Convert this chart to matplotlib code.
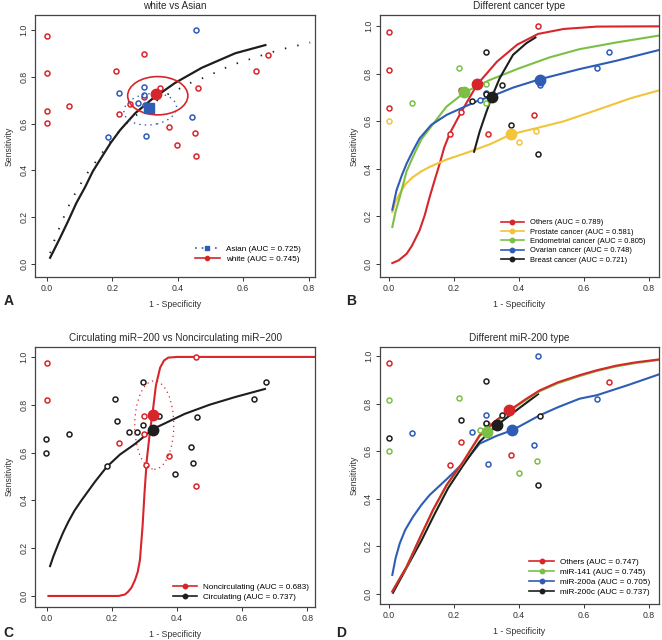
import matplotlib
matplotlib.use('Agg')
import matplotlib.pyplot as plt
from matplotlib.patches import Ellipse
from matplotlib.lines import Line2D

plt.rcParams['font.family'] = ['Liberation Sans', 'DejaVu Sans']

RED = '#d7262b'
YEL = '#f2c43a'
GRN = '#7cbf45'
BLU = '#2f5cb5'
BLK = '#1e1e1e'

# ---- panel A : white vs Asian ----
a_white_x = [0, 0, 0, 0, 0.069, 0.212, 0.298, 0.22, 0.255, 0.298, 0.347, 0.373, 0.398, 0.452, 0.456, 0.461, 0.639, 0.675]
a_white_y = [0.977, 0.819, 0.656, 0.602, 0.678, 0.827, 0.897, 0.640, 0.686, 0.716, 0.755, 0.586, 0.511, 0.562, 0.461, 0.752, 0.824, 0.895]
a_asian_x = [0.456, 0.298, 0.22, 0.278, 0.299, 0.186, 0.304, 0.443, 0.298]
a_asian_y = [1.0, 0.756, 0.732, 0.689, 0.68, 0.544, 0.548, 0.627, 0.722]
a_white_curve_x = [0.010, 0.04, 0.066, 0.09, 0.117, 0.14, 0.168, 0.195, 0.224, 0.27, 0.321, 0.392, 0.474, 0.576, 0.668]
a_white_curve_y = [0.026, 0.11, 0.186, 0.26, 0.329, 0.395, 0.458, 0.518, 0.573, 0.645, 0.705, 0.775, 0.84, 0.902, 0.937]
a_asian_curve_x = [0.01, 0.02, 0.031, 0.044, 0.056, 0.069, 0.083, 0.099, 0.115, 0.133, 0.153, 0.2, 0.25, 0.31, 0.36,
                   0.418, 0.443, 0.474, 0.503, 0.531, 0.561, 0.591, 0.622, 0.652, 0.681, 0.712, 0.742, 0.775, 0.805]
a_asian_curve_y = [0.046, 0.089, 0.131, 0.172, 0.215, 0.255, 0.293, 0.332, 0.37, 0.407, 0.444, 0.535, 0.612, 0.675, 0.72,
                   0.759, 0.778, 0.794, 0.811, 0.831, 0.848, 0.864, 0.877, 0.891, 0.903, 0.917, 0.927, 0.938, 0.948]
a_summary = {'white': (0.333, 0.726), 'Asian': (0.312, 0.666)}
a_white_ell = (0.339, 0.72, 0.092, 0.082)
a_asian_ell = (0.316, 0.662, 0.082, 0.066)
a_labels = ['Asian (AUC = 0.725)', 'white (AUC = 0.745)']

# ---- panel B : cancer type ----
b_names = ['Others', 'Prostate cancer', 'Endometrial cancer', 'Ovarian cancer', 'Breast cancer']
b_auc = [0.789, 0.581, 0.805, 0.748, 0.721]
b_pts_x = [
    [0, 0, 0, 0.221, 0.223, 0.187, 0.306, 0.446, 0.459],
    [0, 0.4, 0.454],
    [0.072, 0.214, 0.299, 0.299],
    [0.3, 0.677, 0.641, 0.465, 0.279],
    [0.3, 0.257, 0.349, 0.375, 0.459, 0.3],
]
b_pts_y = [
    [0.976, 0.818, 0.655, 0.732, 0.641, 0.545, 0.546, 0.627, 1.0],
    [0.601, 0.511, 0.561],
    [0.677, 0.824, 0.756, 0.677],
    [0.72, 0.894, 0.823, 0.751, 0.69],
    [0.894, 0.686, 0.752, 0.583, 0.461, 0.715],
]
b_curve_x = [
    [0.010, 0.03, 0.054, 0.07, 0.094, 0.11, 0.125, 0.14, 0.156, 0.17, 0.187, 0.223, 0.272, 0.333, 0.395, 0.459,
     0.538, 0.641, 0.8, 0.831],
    [0.010, 0.02, 0.033, 0.05, 0.074, 0.1, 0.125, 0.177, 0.238, 0.31, 0.377, 0.456, 0.538, 0.641, 0.744, 0.831],
    [0.010, 0.02, 0.033, 0.054, 0.08, 0.1, 0.125, 0.177, 0.233, 0.31, 0.402, 0.494, 0.587, 0.7, 0.831],
    [0.010, 0.023, 0.04, 0.054, 0.075, 0.094, 0.13, 0.177, 0.279, 0.313, 0.382, 0.464, 0.587, 0.7, 0.831],
    [0.262, 0.279, 0.3, 0.316, 0.341, 0.382, 0.423, 0.451],
]
b_curve_y = [
    [0.003, 0.015, 0.042, 0.075, 0.141, 0.205, 0.281, 0.35, 0.422, 0.49, 0.549, 0.641, 0.756, 0.852, 0.923, 0.968,
     0.989, 0.999, 1.0, 1.0],
    [0.218, 0.262, 0.296, 0.335, 0.366, 0.39, 0.408, 0.439, 0.467, 0.503, 0.546, 0.572, 0.6, 0.648, 0.697, 0.73],
    [0.155, 0.22, 0.281, 0.39, 0.47, 0.525, 0.57, 0.662, 0.722, 0.774, 0.824, 0.869, 0.904, 0.932, 0.961],
    [0.228, 0.31, 0.375, 0.422, 0.48, 0.528, 0.585, 0.627, 0.69, 0.704, 0.742, 0.777, 0.82, 0.855, 0.9],
    [0.472, 0.556, 0.64, 0.70, 0.782, 0.88, 0.929, 0.953],
]
b_summary_x = [0.272, 0.375, 0.231, 0.465, 0.316]
b_summary_y = [0.756, 0.546, 0.724, 0.775, 0.701]

# ---- panel C : circulating vs noncirculating ----
c_non_x = [0, 0, 0.222, 0.299, 0.299, 0.305, 0.374, 0.457, 0.457]
c_non_y = [0.976, 0.818, 0.639, 0.753, 0.677, 0.546, 0.584, 0.458, 1.0]
c_circ_x = [-0.003, -0.003, 0.068, 0.184, 0.21, 0.217, 0.253, 0.276, 0.295, 0.295, 0.344, 0.395, 0.443, 0.45, 0.46, 0.637, 0.672]
c_circ_y = [0.655, 0.6, 0.677, 0.543, 0.824, 0.731, 0.684, 0.688, 0.894, 0.717, 0.752, 0.51, 0.625, 0.558, 0.749, 0.822, 0.893]
c_non_curve_x = [0.005, 0.22, 0.24, 0.25, 0.26, 0.271, 0.279, 0.286, 0.294, 0.3, 0.307, 0.317, 0.327, 0.335, 0.348,
                 0.36, 0.373, 0.4, 0.46, 0.83]
c_non_curve_y = [0.0, 0.0, 0.006, 0.018, 0.035, 0.067, 0.1, 0.15, 0.29, 0.43, 0.568, 0.69, 0.79, 0.88, 0.955,
                 0.985, 0.997, 1.0, 1.0, 1.0]
c_circ_curve_x = [0.01, 0.02, 0.036, 0.05, 0.066, 0.085, 0.107, 0.148, 0.184, 0.225, 0.271, 0.327, 0.424, 0.5, 0.578, 0.67]
c_circ_curve_y = [0.125, 0.165, 0.22, 0.265, 0.31, 0.357, 0.401, 0.478, 0.54, 0.592, 0.636, 0.699, 0.762, 0.8, 0.832, 0.866]
c_summary = {'non': (0.327, 0.759), 'circ': (0.325, 0.696)}
c_non_ell = (0.33, 0.715, 0.06, 0.185)
c_labels = ['Noncirculating (AUC = 0.683)', 'Circulating (AUC = 0.737)']

# ---- panel D : miR-200 type ----
d_names = ['Others', 'miR-141', 'miR-200a', 'miR-200c']
d_auc = [0.747, 0.745, 0.705, 0.737]
d_pts_x = [
    [0, 0.187, 0.223, 0.303, 0.375, 0.679],
    [0, 0, 0.214, 0.28, 0.299, 0.4, 0.456],
    [0.458, 0.299, 0.072, 0.256, 0.306, 0.446, 0.641],
    [0, 0.299, 0.223, 0.299, 0.349, 0.464, 0.459],
]
d_pts_y = [
    [0.973, 0.543, 0.639, 0.713, 0.583, 0.892],
    [0.815, 0.601, 0.824, 0.688, 0.714, 0.51, 0.559],
    [1.0, 0.754, 0.676, 0.683, 0.545, 0.625, 0.821],
    [0.654, 0.895, 0.731, 0.72, 0.752, 0.749, 0.459],
]
d_curve_x = [
    [0.01, 0.03, 0.054, 0.094, 0.135, 0.177, 0.228, 0.279, 0.325, 0.371, 0.42, 0.464, 0.52, 0.587, 0.641, 0.7, 0.76, 0.831],
    [0.01, 0.03, 0.054, 0.094, 0.135, 0.177, 0.228, 0.279, 0.325, 0.371, 0.42, 0.464, 0.52, 0.587, 0.641, 0.7, 0.76, 0.831],
    [0.01, 0.02, 0.033, 0.05, 0.074, 0.1, 0.125, 0.177, 0.238, 0.279, 0.33, 0.382, 0.464, 0.52, 0.587, 0.641, 0.74, 0.831],
    [0.012, 0.05, 0.1, 0.14, 0.182, 0.228, 0.279, 0.333, 0.4, 0.459],
]
d_curve_y = [
    [0.01, 0.058, 0.115, 0.234, 0.353, 0.458, 0.556, 0.667, 0.725, 0.772, 0.818, 0.856, 0.89, 0.92, 0.941, 0.96, 0.974, 0.986],
    [0.012, 0.059, 0.113, 0.231, 0.349, 0.454, 0.553, 0.663, 0.72, 0.768, 0.814, 0.852, 0.886, 0.916, 0.938, 0.957, 0.971, 0.984],
    [0.08, 0.15, 0.213, 0.27, 0.325, 0.375, 0.416, 0.482, 0.563, 0.632, 0.664, 0.69, 0.751, 0.785, 0.821, 0.836, 0.88, 0.923],
    [0.005, 0.1, 0.225, 0.335, 0.445, 0.54, 0.64, 0.71, 0.78, 0.84],
]
d_summary_x = [0.371, 0.302, 0.379, 0.333]
d_summary_y = [0.773, 0.683, 0.69, 0.71]

fig = plt.figure(figsize=(6.62, 6.40), dpi=100)

axA = fig.add_axes([0.053, 0.567, 0.423, 0.41])
axB = fig.add_axes([0.574, 0.567, 0.421, 0.41])
axC = fig.add_axes([0.053, 0.052, 0.423, 0.406])
axD = fig.add_axes([0.574, 0.056, 0.421, 0.402])


def style(ax, title, xlim, ylim):
    ax.set_xlim(*xlim)
    ax.set_ylim(*ylim)
    ax.set_xticks([0, 0.2, 0.4, 0.6, 0.8])
    ax.set_yticks([0, 0.2, 0.4, 0.6, 0.8, 1.0])
    ax.set_xticklabels(['0.0', '0.2', '0.4', '0.6', '0.8'])
    ax.set_yticklabels(['0.0', '0.2', '0.4', '0.6', '0.8', '1.0'], rotation=90, va='center')
    ax.tick_params(labelsize=6.3, colors='#333333', length=3, width=0.7, pad=2)
    for s in ax.spines.values():
        s.set_linewidth(0.9)
        s.set_color('#444444')
    ax.set_title(title, fontsize=7.2, color='#2a2a2a', pad=4)
    ax.set_xlabel('1 - Specificity', fontsize=6.3, color='#333333', labelpad=5)
    ax.set_ylabel('Sensitivity', fontsize=6.3, color='#333333', labelpad=4)


def studies(ax, xs, ys, color):
    ax.plot(xs, ys, 'o', mfc='white', mec=color, ms=3.6, mew=1.1, ls='none', zorder=3)


def legend(ax, handles, labels, size, pad):
    ax.legend(handles, labels, loc='lower right', frameon=False, fontsize=size, handlelength=3,
              borderaxespad=pad, labelspacing=0.28, handletextpad=0.8)


# A
style(axA, 'white vs Asian', (-0.036, 0.82), (-0.057, 1.067))
studies(axA, a_white_x, a_white_y, RED)
studies(axA, a_asian_x, a_asian_y, BLU)
axA.plot(a_asian_curve_x, a_asian_curve_y, color=BLK, lw=1.3, ls=(0, (0.8, 6.2)), zorder=2)
axA.plot(a_white_curve_x, a_white_curve_y, color=BLK, lw=1.6, zorder=2)
cx, cy, rx, ry = a_white_ell
axA.add_patch(Ellipse((cx, cy), 2 * rx, 2 * ry, fill=False, ec=RED, lw=1.2, zorder=4))
cx, cy, rx, ry = a_asian_ell
axA.add_patch(Ellipse((cx, cy), 2 * rx, 2 * ry, angle=18, fill=False, ec=BLU, lw=1.0,
                      ls=(0, (1, 3)), zorder=4))
axA.plot(*a_summary['Asian'], 's', color=BLU, ms=7, zorder=5)
axA.plot(*a_summary['white'], 'o', color=RED, ms=7.5, zorder=5)
hA = [Line2D([], [], color=BLU, ls=(0, (1, 3)), lw=1.2, marker='s', ms=3),
      Line2D([], [], color=RED, lw=1.2, marker='o', ms=3)]
legend(axA, hA, a_labels, 5.9, 1.3)

# B
style(axB, 'Different cancer type', (-0.028, 0.831), (-0.056, 1.049))
b_colors = [RED, YEL, GRN, BLU, BLK]
for i, c in enumerate(b_colors):
    studies(axB, b_pts_x[i], b_pts_y[i], c)
for i, c in enumerate(b_colors):
    axB.plot(b_curve_x[i], b_curve_y[i], color=c, lw=1.5, zorder=2)
for i, c in enumerate(b_colors):
    axB.plot(b_summary_x[i], b_summary_y[i], 'o', color=c, ms=7.5, zorder=5)
hB = [Line2D([], [], color=c, lw=1.2, marker='o', ms=3.2) for c in b_colors]
legend(axB, hB, ['%s (AUC = %.3f)' % (n, a) for n, a in zip(b_names, b_auc)], 5.4, 1.4)

# C
style(axC, 'Circulating miR\u2212200 vs Noncirculating miR\u2212200', (-0.036, 0.824), (-0.045, 1.042))
studies(axC, c_non_x, c_non_y, RED)
studies(axC, c_circ_x, c_circ_y, BLK)
axC.plot(c_circ_curve_x, c_circ_curve_y, color=BLK, lw=1.5, zorder=2)
axC.plot(c_non_curve_x, c_non_curve_y, color=RED, lw=1.5, zorder=2)
cx, cy, rx, ry = c_non_ell
axC.add_patch(Ellipse((cx, cy), 2 * rx, 2 * ry, fill=False, ec=RED, lw=0.9, ls=(0, (1, 3)), zorder=4))
axC.plot(*c_summary['circ'], 'o', color=BLK, ms=7.5, zorder=5)
axC.plot(*c_summary['non'], 'o', color=RED, ms=7.5, zorder=5)
hC = [Line2D([], [], color=RED, lw=1.2, marker='o', ms=3.2),
      Line2D([], [], color=BLK, lw=1.2, marker='o', ms=3.2)]
legend(axC, hC, c_labels, 5.85, 0.3)

# D
style(axD, 'Different miR-200 type', (-0.028, 0.831), (-0.043, 1.039))
d_colors = [RED, GRN, BLU, BLK]
for i, c in enumerate(d_colors):
    studies(axD, d_pts_x[i], d_pts_y[i], c)
for i in [2, 3, 1, 0]:
    axD.plot(d_curve_x[i], d_curve_y[i], color=d_colors[i], lw=1.5, zorder=2)
for i in [1, 3, 2, 0]:
    axD.plot(d_summary_x[i], d_summary_y[i], 'o', color=d_colors[i], ms=7.5, zorder=5)
hD = [Line2D([], [], color=c, lw=1.2, marker='o', ms=3.2) for c in d_colors]
legend(axD, hD, ['%s (AUC = %.3f)' % (n, a) for n, a in zip(d_names, d_auc)], 5.85, 0.6)

for letter, x, y in [('A', 0.005, 0.524), ('B', 0.523, 0.524), ('C', 0.005, 0.005), ('D', 0.508, 0.005)]:
    fig.text(x, y, letter, fontsize=10, fontweight='bold', color='#222222')

fig.savefig('out.png', dpi=100)
